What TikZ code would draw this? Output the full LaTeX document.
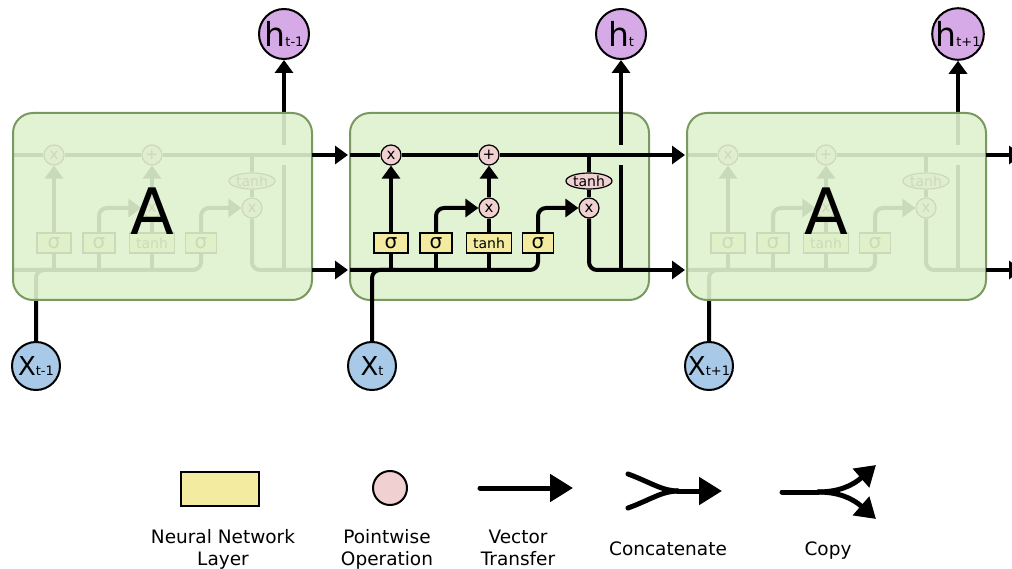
\documentclass[tikz,border=0pt]{standalone}
\usepackage{fontspec}
\setmainfont{DejaVu Sans}
\usetikzlibrary{arrows.meta,shapes.geometric,calc}
\definecolor{cellfill}{RGB}{226,243,212}
\definecolor{sidefill}{RGB}{223,242,207}
\definecolor{celldraw}{RGB}{122,153,96}
\definecolor{opfill}{RGB}{240,208,208}
\definecolor{layerfill}{RGB}{243,236,160}
\definecolor{hfill}{RGB}{214,170,230}
\definecolor{xfill}{RGB}{168,202,232}
\tikzset{
 line/.style={line width=4pt},
 arr/.style={line width=4pt,-{Triangle[length=13pt,width=18pt]}},
 op/.style={circle,draw,line width=1.2pt,fill=opfill,minimum size=20pt,inner sep=0pt,font=\fontsize{15}{15}\selectfont},
 layerbox/.style={rectangle,draw,line width=1.2pt,fill=layerfill,minimum height=20pt,inner sep=0pt},
 sig/.style={layerbox,font=\fontsize{20}{20}\selectfont},
 tanhbox/.style={layerbox,font=\fontsize{14}{14}\selectfont},
 tanhop/.style={ellipse,draw,line width=1.2pt,fill=opfill,minimum width=46pt,minimum height=16pt,inner sep=0pt,font=\fontsize{14}{14}\selectfont},
 cellbox/.style={draw=celldraw,fill=cellfill,line width=2pt,rounded corners=20pt},
 sidebox/.style={draw=celldraw,fill=sidefill,fill opacity=0.9,line width=2pt,rounded corners=20pt},
 hnode/.style={circle,draw,line width=2pt,fill=hfill,minimum size=50pt,inner sep=0pt},
 xnode/.style={circle,draw,line width=2pt,fill=xfill,minimum size=48pt,inner sep=0pt},
 bigA/.style={font=\fontsize{64}{64}\selectfont,inner sep=0pt},
 lbl/.style={font=\fontsize{18.5}{23}\selectfont,anchor=base,inner sep=0pt},
 legline/.style={line width=5pt,line cap=round},
 legarr/.style={line width=5pt,line cap=round,-{Triangle[length=23pt,width=27pt]}},
 legarrs/.style={line width=5pt,line cap=round,-{Triangle[length=20pt,width=24pt]}},
}
\newcommand\hlab[1]{{\fontsize{33}{33}\selectfont h}{\fontsize{13}{13}\selectfont #1}}
\newcommand\xlab[1]{{\fontsize{26}{26}\selectfont X}{\fontsize{13}{13}\selectfont #1}}
\newcommand\lstminner[2]{%
\begin{scope}[shift={(#2,113)}]
 \coordinate (#1L) at (0,42);
 \coordinate (#1Lh) at (0,157);
 \coordinate (#1R) at (299,42);
 \coordinate (#1Rh) at (299,157);
 \coordinate (#1xj) at (45,157);
 \coordinate (#1c) at (239,42);
 \coordinate (#1v) at (271,157);
 \coordinate (#1ga) at (271,52);
 \coordinate (#1gb) at (271,32);
 \node[op] (#1f) at (41,42) {x};
 \node[op] (#1p) at (139,42) {+};
 \node[op] (#1i) at (139,95) {x};
 \node[op] (#1o) at (239,95) {x};
 \node[tanhop] (#1th) at (239,68) {tanh};
 \node[sig,minimum width=34pt] (#1sa) at (41,130) {σ};
 \node[sig,minimum width=32pt] (#1sb) at (86,130) {σ};
 \node[tanhbox,minimum width=45pt] (#1tl) at (139,130) {tanh};
 \node[sig,minimum width=31pt] (#1sc) at (188,130) {σ};
 \draw[line] (#1L) -- (#1f);
 \draw[line] (#1f) -- (#1p);
 \draw[line] (#1p) -- (#1R);
 \draw[line,rounded corners=8pt] (#1Lh) -| (#1sc);
 \draw[line,rounded corners=8pt] (#1x) |- (#1xj);
 \draw[line] (#1sa) -- (#1sa |- #1Lh);
 \draw[line] (#1sb) -- (#1sb |- #1Lh);
 \draw[line] (#1tl) -- (#1tl |- #1Lh);
 \draw[arr] (#1sa) -- (#1f);
 \draw[arr,rounded corners=8pt] (#1sb) |- (#1i);
 \draw[line] (#1tl) -- (#1i);
 \draw[arr] (#1i) -- (#1p);
 \draw[arr,rounded corners=8pt] (#1sc) |- (#1o);
 \draw[line] (#1c) -- (#1th);
 \draw[line] (#1th) -- (#1o);
 \draw[line,rounded corners=8pt] (#1o) |- (#1Rh);
 \draw[line] (#1v) -- (#1ga);
 \draw[arr] (#1gb) -- (#1h);
\end{scope}}
\begin{document}
\begin{tikzpicture}[x=1pt,y=-1pt]
\useasboundingbox (0,0) rectangle (1012,569);
\fill[white] (0,0) rectangle (1012,569);
\clip (0,0) rectangle (1012,569);
% h and x nodes
\node[hnode] (ah) at (284,34) {\hlab{t-1}};
\node[hnode] (bh) at (621,34) {\hlab{t}};
\node[hnode] (ch) at (958,34) {\hlab{t+1}};
\node[xnode] (ax) at (36,366) {\xlab{t-1}};
\node[xnode] (bx) at (372,366) {\xlab{t}};
\node[xnode] (cx) at (709,366) {\xlab{t+1}};
% left cell (faded)
\lstminner{a}{13}
\draw[sidebox] (13,113) rectangle ++(299,187);
\node[bigA] (aA) at (152,211) {A};
% right cell (faded)
\lstminner{c}{687}
\draw[sidebox] (687,113) rectangle ++(299,187);
\node[bigA] (cA) at (826,211) {A};
% centre cell
\draw[cellbox] (350,113) rectangle ++(299,187);
\lstminner{b}{350}
% links between cells
\coordinate (dL) at (1024,155);
\coordinate (dLh) at (1024,270);
\draw[arr,shorten >=2pt] (aR) -- (bL);
\draw[arr,shorten >=2pt] (aRh) -- (bLh);
\draw[arr,shorten >=2pt] (bR) -- (cL);
\draw[arr,shorten >=2pt] (bRh) -- (cLh);
\draw[arr,shorten >=2pt] (cR) -- (dL);
\draw[arr,shorten >=2pt] (cRh) -- (dLh);
% legend
\node[layerbox,line width=2.5pt,minimum width=78pt,minimum height=34pt] (lgLayer) at (220,489) {};
\node[op,line width=2pt,minimum size=34pt] (lgOp) at (390,488) {};
\coordinate (lgVa) at (480,488);
\coordinate (lgVb) at (573,488);
\draw[legarr] (lgVa) -- (lgVb);
\coordinate (cnA) at (628,474);
\coordinate (cnB) at (628,508);
\coordinate (cnM) at (678,491);
\coordinate (cnE) at (722,491);
\draw[legline] (cnA) .. controls (650,482) and (662,491) .. (cnM);
\draw[legline] (cnB) .. controls (650,500) and (662,491) .. (cnM);
\draw[legarr] (cnM) -- (cnE);
\coordinate (cpA) at (782,492);
\coordinate (cpM) at (818,492);
\coordinate (cpU) at (876,465);
\coordinate (cpD) at (876,519);
\draw[legline] (cpA) -- (cpM);
\draw[legarrs] (cpM) .. controls (838,492) and (852,486) .. (cpU);
\draw[legarrs] (cpM) .. controls (838,492) and (852,498) .. (cpD);
\node[lbl] (tNN) at (223,543) {Neural Network};
\node[lbl] (tLy) at (223,565) {Layer};
\node[lbl] (tPw) at (387,543) {Pointwise};
\node[lbl] (tOp) at (387,565) {Operation};
\node[lbl] (tVe) at (518,543) {Vector};
\node[lbl] (tTr) at (518,565) {Transfer};
\node[lbl] (tCo) at (668,555) {Concatenate};
\node[lbl] (tCp) at (828,555) {Copy};
\end{tikzpicture}
\end{document}
